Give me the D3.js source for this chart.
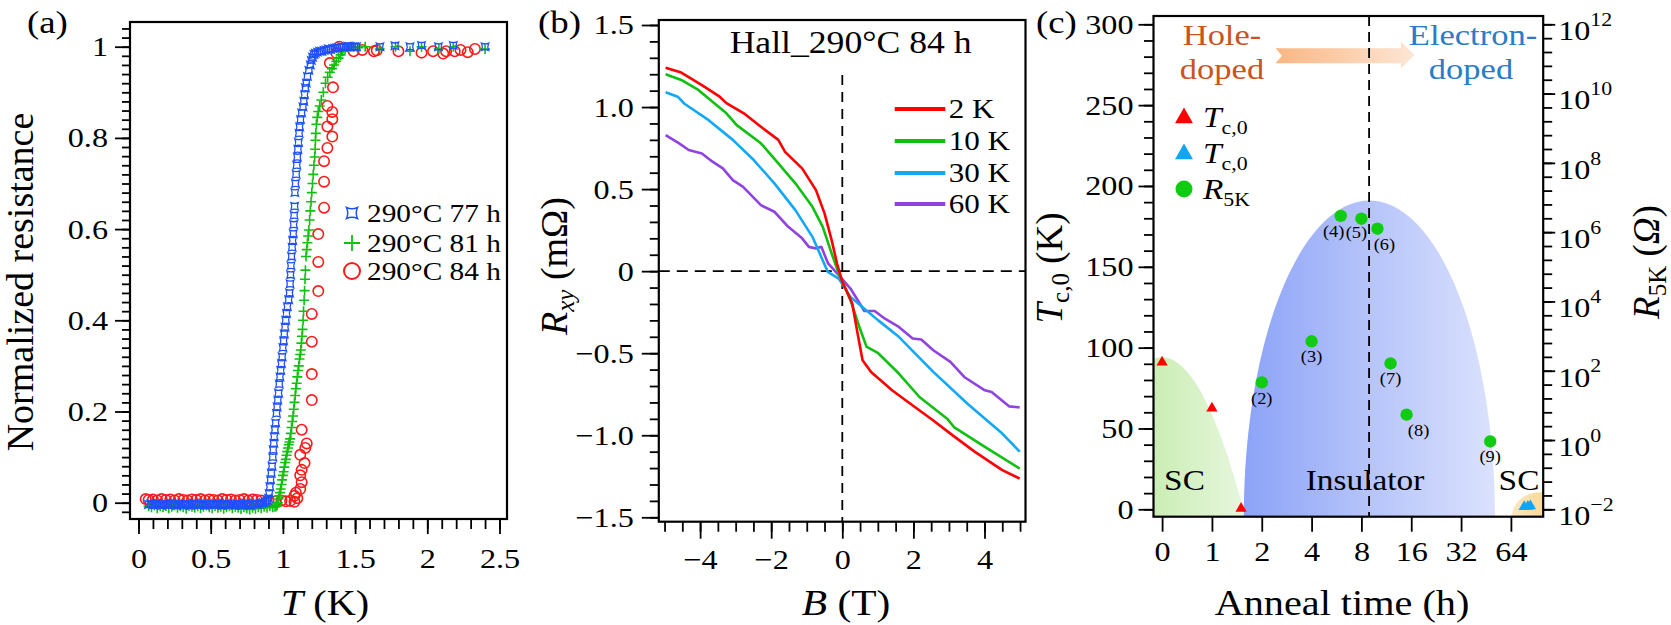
<!DOCTYPE html>
<html><head><meta charset="utf-8">
<script src="https://cdn.jsdelivr.net/npm/d3@7/dist/d3.min.js"></script>
<style>
html,body{margin:0;padding:0;background:#fff;}
svg{display:block}
svg text{font-family:"Liberation Serif","Tinos","Times New Roman","DejaVu Serif",serif;fill:#000}
</style></head><body>
<svg id="fig" width="1671" height="625" viewBox="0 0 1671 625"></svg>
<script>
// ================= DATA =================
// ---- panel (a): normalized resistance vs T ----
const aXTicks = [0, 0.5, 1, 1.5, 2, 2.5];
const aYTicks = [0, 0.2, 0.4, 0.6, 0.8, 1];
const aLegend = ["290°C 77 h", "290°C 81 h", "290°C 84 h"];
// [T (K), R/Rn]
const res77h = [
 [0.07,-0.004],[0.085,-0.002],[0.10,-0.005],[0.115,-0.003],[0.13,-0.001],[0.145,-0.004],[0.16,-0.006],[0.175,-0.002],
 [0.19,-0.003],[0.205,-0.005],[0.22,-0.001],[0.235,-0.004],[0.25,-0.003],[0.265,-0.006],[0.28,-0.002],[0.295,-0.004],
 [0.31,-0.005],[0.325,-0.002],[0.34,-0.003],[0.355,-0.006],[0.37,-0.004],[0.385,-0.001],[0.40,-0.003],[0.415,-0.005],
 [0.43,-0.004],[0.445,-0.002],[0.46,-0.006],[0.475,-0.003],[0.49,-0.004],[0.505,-0.002],[0.52,-0.005],[0.535,-0.003],
 [0.55,-0.001],[0.565,-0.004],[0.58,-0.006],[0.595,-0.003],[0.61,-0.002],[0.625,-0.005],[0.64,-0.004],[0.655,-0.003],
 [0.67,-0.006],[0.685,-0.002],[0.70,-0.004],[0.715,-0.005],[0.73,-0.003],[0.745,-0.001],[0.76,-0.004],[0.775,-0.006],
 [0.79,-0.003],[0.805,-0.002],[0.82,-0.004],[0.835,-0.003],[0.85,-0.001],[0.865,0.000],[0.88,0.002],[0.89,0.005],
 [0.90,0.01],[0.905,0.02],[0.91,0.035],[0.915,0.05],[0.92,0.065],[0.925,0.08],[0.93,0.10],[0.933,0.116],
 [0.937,0.13],[0.94,0.145],[0.945,0.16],[0.95,0.175],[0.956,0.196],[0.96,0.21],[0.965,0.225],[0.97,0.24],
 [0.975,0.26],[0.98,0.276],[0.985,0.29],[0.99,0.305],[0.995,0.32],[1.0,0.34],[1.005,0.355],[1.01,0.37],
 [1.015,0.385],[1.02,0.40],[1.025,0.415],[1.031,0.43],[1.04,0.445],[1.046,0.46],[1.05,0.48],[1.053,0.50],
 [1.056,0.52],[1.06,0.54],[1.064,0.56],[1.068,0.575],[1.072,0.59],[1.075,0.61],[1.078,0.63],[1.081,0.65],
 [1.083,0.68],[1.087,0.70],[1.092,0.72],[1.096,0.74],[1.10,0.758],[1.104,0.775],[1.108,0.79],[1.112,0.81],
 [1.116,0.824],[1.122,0.84],[1.13,0.855],[1.139,0.868],[1.145,0.88],[1.15,0.895],[1.156,0.91],[1.162,0.92],
 [1.17,0.935],[1.18,0.948],[1.19,0.96],[1.197,0.97],[1.205,0.977],[1.215,0.983],[1.225,0.986],[1.24,0.988],
 [1.255,0.99],[1.27,0.99],[1.285,0.992],[1.30,0.993],[1.315,0.995],[1.33,0.994],[1.345,0.996],[1.36,0.997],
 [1.375,0.998],[1.39,0.998],[1.405,1.0],[1.42,0.999],[1.435,1.0],[1.45,1.001],[1.465,1.0],[1.48,1.0],
 [1.495,1.0],[1.51,1.0],[1.672,1.0],[1.776,1.002],[1.88,1.0],[1.96,1.003],[2.077,1.0],[2.18,1.003],[2.40,1.0]
];
const res81h = [
 [0.07,-0.008],[0.09,-0.010],[0.11,-0.006],[0.13,-0.012],[0.15,-0.008],[0.17,-0.010],[0.19,-0.007],[0.21,-0.012],
 [0.23,-0.009],[0.25,-0.006],[0.27,-0.011],[0.29,-0.008],[0.31,-0.010],[0.33,-0.013],[0.35,-0.007],[0.37,-0.009],
 [0.39,-0.011],[0.41,-0.008],[0.43,-0.012],[0.45,-0.009],[0.47,-0.006],[0.49,-0.010],[0.51,-0.012],[0.53,-0.008],
 [0.55,-0.011],[0.57,-0.009],[0.59,-0.013],[0.61,-0.010],[0.63,-0.008],[0.65,-0.012],[0.67,-0.009],[0.69,-0.011],
 [0.71,-0.014],[0.73,-0.010],[0.75,-0.012],[0.77,-0.015],[0.79,-0.011],[0.81,-0.013],[0.83,-0.010],[0.85,-0.012],
 [0.87,-0.009],[0.89,-0.011],[0.91,-0.008],[0.93,-0.010],[0.945,-0.009],
 [0.955,-0.008],[0.96,-0.005],[0.965,0.0],[0.97,0.008],[0.975,0.015],[0.98,0.022],[0.985,0.03],[0.99,0.04],
 [0.995,0.05],[1.0,0.06],[1.005,0.068],[1.01,0.078],[1.015,0.088],[1.02,0.095],[1.025,0.104],[1.03,0.112],
 [1.035,0.12],[1.04,0.127],[1.045,0.133],[1.05,0.14],[1.055,0.152],[1.06,0.165],[1.065,0.178],[1.07,0.19],
 [1.075,0.205],[1.08,0.22],[1.085,0.235],[1.09,0.25],[1.095,0.262],[1.10,0.276],[1.105,0.29],[1.11,0.30],
 [1.115,0.315],[1.12,0.325],[1.124,0.335],[1.128,0.35],[1.132,0.365],[1.136,0.38],[1.14,0.40],[1.143,0.42],
 [1.147,0.444],[1.15,0.465],[1.153,0.49],[1.156,0.51],[1.16,0.54],[1.165,0.555],[1.17,0.57],[1.175,0.585],
 [1.18,0.598],[1.185,0.62],[1.19,0.64],[1.195,0.66],[1.20,0.68],[1.205,0.70],[1.21,0.72],[1.215,0.74],
 [1.22,0.758],[1.223,0.775],[1.225,0.795],[1.228,0.81],[1.232,0.83],[1.238,0.845],[1.245,0.858],[1.255,0.87],
 [1.266,0.883],[1.28,0.90],[1.295,0.92],[1.31,0.933],[1.325,0.944],[1.34,0.952],[1.355,0.96],[1.37,0.968],
 [1.385,0.975],[1.40,0.982],[1.415,0.99],[1.43,0.995],[1.45,0.998],[1.47,1.0],[1.49,1.0],[1.52,0.998],
 [1.57,1.0],[1.67,0.995],[1.78,1.0],[1.88,0.99],[1.96,1.0],[2.08,0.995],[2.18,1.0],[2.40,0.995]
];
const res84h = [
 [0.05,0.008],[0.07,0.006],[0.10,0.007],[0.13,0.005],[0.16,0.008],[0.19,0.006],[0.22,0.007],[0.25,0.005],
 [0.28,0.008],[0.31,0.006],[0.34,0.005],[0.37,0.007],[0.40,0.006],[0.43,0.008],[0.46,0.005],[0.49,0.007],
 [0.52,0.006],[0.55,0.005],[0.58,0.008],[0.61,0.006],[0.64,0.007],[0.67,0.005],[0.70,0.006],[0.73,0.008],
 [0.76,0.005],[0.79,0.007],[0.82,0.006],[0.85,0.005],[0.90,0.004],[0.95,0.003],[0.99,0.005],[1.02,0.003],
 [1.05,0.004],[1.08,0.002],[1.08,0.015],[1.09,0.022],[1.10,0.01],[1.12,0.03],[1.13,0.045],[1.12,0.06],
 [1.13,0.072],[1.15,0.087],[1.12,0.105],[1.155,0.12],[1.165,0.13],[1.13,0.16],[1.20,0.225],[1.20,0.282],
 [1.20,0.353],[1.20,0.414],[1.245,0.464],[1.245,0.528],[1.245,0.589],[1.285,0.647],[1.285,0.704],[1.285,0.749],
 [1.308,0.778],[1.342,0.803],[1.308,0.825],[1.342,0.841],[1.342,0.857],[1.308,0.87],[1.347,0.911],[1.325,0.964],
 [1.37,0.986],[1.39,1.0],[1.49,0.99],[1.55,0.993],[1.63,0.99],[1.65,0.992],[1.80,0.99],[1.96,0.987],
 [2.04,0.99],[2.11,0.985],[2.13,0.99],[2.19,0.99],[2.23,0.993],[2.28,0.988],[2.33,0.995]
];

// ---- panel (b): Hall resistance vs B ----
const bTitle = "Hall_290°C 84 h";
const bXTicks = [-4, -2, 0, 2, 4];
const bYTicks = [-1.5, -1, -0.5, 0, 0.5, 1, 1.5];
const bLegend = ["2 K", "10 K", "30 K", "60 K"];
const hall2K_B  = [-4.97,-4.53,-3.95,-3.45,-3.26,-2.77,-2.29,-1.80,-1.61,-1.13,-0.74,-0.50,-0.30,-0.15,0.00,0.28,0.43,0.57,0.81,1.40,1.78,2.56,3.04,3.72,4.50,4.99];
const hall2K_R  = [1.24,1.21,1.134,1.063,1.024,0.962,0.88,0.80,0.727,0.626,0.494,0.352,0.189,0.048,-0.065,-0.197,-0.38,-0.543,-0.614,-0.726,-0.787,-0.91,-0.99,-1.10,-1.213,-1.264];
const hall10K_B = [-4.97,-4.53,-4.05,-3.26,-2.97,-2.29,-1.80,-1.32,-0.84,-0.55,-0.30,-0.10,0.05,0.23,0.48,0.68,1.01,1.59,2.17,2.95,3.14,4.01,4.99];
const hall10K_R = [1.20,1.165,1.104,0.962,0.89,0.779,0.657,0.535,0.392,0.27,0.108,-0.014,-0.085,-0.177,-0.34,-0.46,-0.50,-0.624,-0.767,-0.899,-0.95,-1.071,-1.203];
const hall30K_B = [-4.97,-4.63,-4.44,-3.76,-3.08,-2.49,-1.91,-1.32,-0.84,-0.41,-0.10,0.23,1.01,1.59,2.56,3.53,4.50,4.99];
const hall30K_R = [1.09,1.063,1.02,0.92,0.80,0.677,0.535,0.372,0.209,-0.004,-0.045,-0.157,-0.30,-0.40,-0.614,-0.81,-0.99,-1.10];
const hall60K_B = [-4.97,-4.60,-4.32,-3.95,-3.65,-3.36,-3.08,-2.79,-2.29,-1.91,-1.52,-1.13,-0.94,-0.74,-0.59,-0.40,-0.10,0.23,0.62,0.91,1.20,1.59,1.98,2.22,2.56,3.04,3.43,4.01,4.20,4.69,4.99];
const hall60K_R = [0.829,0.78,0.738,0.717,0.667,0.626,0.555,0.514,0.402,0.362,0.27,0.20,0.148,0.138,0.148,0.047,-0.024,-0.106,-0.243,-0.243,-0.29,-0.34,-0.41,-0.417,-0.482,-0.553,-0.645,-0.726,-0.736,-0.824,-0.83];

// ---- panel (c): phase diagram vs anneal time ----
const cTimeTicks = [0, 1, 2, 4, 8, 16, 32, 64];
const cTcTicks = [0, 50, 100, 150, 200, 250, 300];
const cRTicks = [1e-2, 1e0, 1e2, 1e4, 1e6, 1e8, 1e10, 1e12];
const tcHoleTime = [0, 1, 1.5];
const tcHole     = [91, 62.5, 0.5];
const tcElecTime = [77, 81, 84];
const tcElec     = [1.6, 1.8, 2.0];
const r5kTime  = [2, 4, 6, 8, 10, 12, 15, 48];
const r5k      = [46, 708, 2.95e6, 2.45e6, 1.26e6, 162, 5.4, 0.91];
const r5kLabel = ["(2)", "(3)", "(4)", "(5)", "(6)", "(7)", "(8)", "(9)"];
const boundaryTime = 8.9;
// region shapes: [centre time-index, half-width (index units), peak Tc]
const domeSC1 = [0, 1.67, 94];
const domeIns = [4.16, 2.52, 191];
const domeSC2 = [7.58, 0.56, 10.5];

// ================= DRAWING =================
const svg = d3.select("#fig");
const defs = svg.append("defs");
const F = '"Liberation Serif","Tinos","Times New Roman","DejaVu Serif",serif';
const K = 1.15; // horizontal glyph stretch of the original typesetting

function stretch(sel) {
  sel.each(function () {
    const el = d3.select(this);
    const x = +el.attr("x") || 0;
    el.attr("x", x / K).attr("transform", `scale(${K},1)`);
  });
}
function grad(id, stops) {
  const g = defs.append("linearGradient").attr("id", id).attr("x1", 0).attr("x2", 1).attr("y1", 0).attr("y2", 0);
  stops.forEach((c, i) => g.append("stop").attr("offset", i / (stops.length - 1)).attr("stop-color", c));
}
grad("gGreen", ["#b3e692", "#e7f7de"]);
grad("gBlue", ["#8ca3f7", "#b6c4fa", "#dbe2fd"]);
grad("gOrange", ["#fde8c2", "#f8cb78"]);
grad("gArrow", ["#fbb682", "#fde6d6"]);

function clip(id, fr) {
  defs.append("clipPath").attr("id", id).append("rect")
    .attr("x", fr.l).attr("y", fr.t).attr("width", fr.r - fr.l).attr("height", fr.b - fr.t);
}
function styleAxis(g) {
  g.attr("font-family", F);
  g.select(".domain").remove();
  g.selectAll(".tick line").attr("stroke", "#000").attr("stroke-width", 1.8);
  g.selectAll(".tick text").attr("font-size", 28).attr("font-family", F).attr("fill", "#000").call(stretch);
}
function frame(fr) {
  svg.append("rect").attr("x", fr.l).attr("y", fr.t).attr("width", fr.r - fr.l).attr("height", fr.b - fr.t)
    .attr("fill", "none").attr("stroke", "#000").attr("stroke-width", 2.2);
}
function txt(x, y, s, fs, anchor, fill) {
  const t = svg.append("text").attr("x", x).attr("y", y).attr("font-size", fs)
    .attr("font-family", F).attr("text-anchor", anchor || "start").text(s);
  if (fill) t.attr("fill", fill).style("fill", fill);
  t.call(stretch);
  return t;
}
function label(x, y, parts, opts) {
  const t = svg.append("text").attr("x", x).attr("y", y).attr("font-size", opts.fs)
    .attr("font-family", F).attr("text-anchor", opts.anchor || "start");
  if (opts.rot) t.attr("transform", `rotate(${opts.rot},${x},${y})`);
  else t.call(stretch);
  parts.forEach(p => {
    const s = t.append("tspan").text(p.t);
    if (p.i) s.attr("font-style", "italic");
    if (p.fs) s.attr("font-size", p.fs);
    if (p.dy) s.attr("dy", p.dy);
  });
  return t;
}

// ---------- Panel (a) ----------
const A = {l: 130, r: 507, t: 22, b: 519};
const xA = d3.scaleLinear().domain([0, 2.5]).range([138.5, 499.5]);
const yA = d3.scaleLinear().domain([0, 1]).range([502.7, 46.7]);
clip("clipA", A);
svg.append("g").attr("transform", `translate(${A.l},0)`)
  .call(d3.axisLeft(yA).tickValues(d3.range(-1, 53).map(i => i * 0.02)).tickSize(8).tickFormat(""))
  .call(styleAxis);
svg.append("g").attr("transform", `translate(${A.l},0)`)
  .call(d3.axisLeft(yA).tickValues(aYTicks).tickSize(15).tickPadding(7)
    .tickFormat(d => (d === 0 || d === 1) ? String(d) : d3.format(".1f")(d)))
  .call(styleAxis);
svg.append("g").attr("transform", `translate(0,${A.b})`)
  .call(d3.axisBottom(xA).tickValues(d3.range(0, 26).map(i => i * 0.1)).tickSize(10).tickFormat(""))
  .call(styleAxis);
svg.append("g").attr("transform", `translate(0,${A.b})`)
  .call(d3.axisBottom(xA).tickValues(aXTicks).tickSize(15).tickPadding(14).tickFormat(d => String(d)))
  .call(styleAxis);

const starPath = s => `M${-s},${-s}Q0,${-s*0.55} ${s},${-s}Q${s*0.55},0 ${s},${s}Q0,${s*0.55} ${-s},${s}Q${-s*0.55},0 ${-s},${-s}Z`;
const plusPath = s => `M${-s},0H${s}M0,${-s}V${s}`;
const gA = svg.append("g").attr("clip-path", "url(#clipA)");
gA.selectAll("circle.r84").data(res84h).join("circle").attr("class", "r84")
  .attr("cx", d => xA(d[0])).attr("cy", d => yA(d[1])).attr("r", 5.2)
  .attr("fill", "none").attr("stroke", "#ff1a1a").attr("stroke-width", 1.6);
gA.selectAll("path.r81").data(res81h).join("path").attr("class", "r81")
  .attr("transform", d => `translate(${xA(d[0])},${yA(d[1])})`).attr("d", plusPath(5))
  .attr("stroke", "#10c010").attr("stroke-width", 1.6).attr("fill", "none");
gA.selectAll("path.r77").data(res77h).join("path").attr("class", "r77")
  .attr("transform", d => `translate(${xA(d[0])},${yA(d[1])})`).attr("d", starPath(3.6))
  .attr("stroke", "#1e50ff").attr("stroke-width", 1.3).attr("fill", "none");
frame(A);

// legend (a)
const aLegY = [213, 243, 271];
svg.append("path").attr("transform", `translate(352,${aLegY[0]})`).attr("d", starPath(5.5))
  .attr("stroke", "#1e50ff").attr("stroke-width", 1.5).attr("fill", "none");
svg.append("path").attr("transform", `translate(352,${aLegY[1]})`).attr("d", plusPath(8))
  .attr("stroke", "#10c010").attr("stroke-width", 1.8).attr("fill", "none");
svg.append("circle").attr("cx", 352).attr("cy", aLegY[2]).attr("r", 8)
  .attr("stroke", "#ff1a1a").attr("stroke-width", 2).attr("fill", "none");
aLegend.forEach((s, i) => txt(367, aLegY[i] + 9, s, 25.5));

label(27, 33, [{t: "(a)"}], {fs: 32});
label(325, 615, [{t: "T", i: 1}, {t: " (K)"}], {fs: 35});
d3.selectAll("text").filter(function () { return this.textContent === "T (K)"; }).attr("text-anchor", "middle");
label(33, 282, [{t: "Normalized resistance"}], {fs: 38, anchor: "middle", rot: -90});

// ---------- Panel (b) ----------
const B = {l: 658.8, r: 1025.5, t: 20, b: 521.7};
const xB = d3.scaleLinear().domain([-4, 4]).range([700.1, 984.5]);
const yB = d3.scaleLinear().domain([-1.5, 1.5]).range([517.3, 25]);
clip("clipB", B);
svg.append("g").attr("transform", `translate(${B.l},0)`)
  .call(d3.axisLeft(yB).tickValues(d3.range(-15, 16).map(i => i / 10)).tickSize(9).tickFormat(""))
  .call(styleAxis);
svg.append("g").attr("transform", `translate(${B.l},0)`)
  .call(d3.axisLeft(yB).tickValues(bYTicks).tickSize(17).tickPadding(8)
    .tickFormat(d => d === 0 ? "0" : d3.format(".1f")(d)))
  .call(styleAxis);
svg.append("g").attr("transform", `translate(0,${B.b})`)
  .call(d3.axisBottom(xB).tickValues(d3.range(-10, 11).map(i => i * 0.5)).tickSize(10).tickFormat(""))
  .call(styleAxis);
svg.append("g").attr("transform", `translate(0,${B.b})`)
  .call(d3.axisBottom(xB).tickValues(bXTicks).tickSize(17).tickPadding(10).tickFormat(d3.format("d")))
  .call(styleAxis);

const gB = svg.append("g").attr("clip-path", "url(#clipB)");
gB.append("line").attr("x1", B.l).attr("x2", B.r).attr("y1", yB(0)).attr("y2", yB(0))
  .attr("stroke", "#000").attr("stroke-width", 1.8).attr("stroke-dasharray", "11,7");
gB.append("line").attr("x1", xB(0)).attr("x2", xB(0)).attr("y1", yB(1.195)).attr("y2", B.b)
  .attr("stroke", "#000").attr("stroke-width", 1.8).attr("stroke-dasharray", "10,7");
const bColors = ["#ff0000", "#10c010", "#12a8f5", "#9143df"];
const hallSets = [[hall2K_B, hall2K_R], [hall10K_B, hall10K_R], [hall30K_B, hall30K_R], [hall60K_B, hall60K_R]];
const lineB = d3.line().x(d => xB(d[0])).y(d => yB(d[1])).curve(d3.curveLinear);
hallSets.slice().reverse().forEach((s, k) => {
  const i = hallSets.length - 1 - k;
  gB.append("path").attr("d", lineB(s[0].map((b, j) => [b, s[1][j]])))
    .attr("fill", "none").attr("stroke", bColors[i]).attr("stroke-width", 2.6).attr("stroke-linejoin", "round");
});
frame(B);
const bLegY = [109, 141, 173, 204];
bLegend.forEach((s, i) => {
  svg.append("line").attr("x1", 894.7).attr("x2", 945.3).attr("y1", bLegY[i]).attr("y2", bLegY[i])
    .attr("stroke", bColors[i]).attr("stroke-width", 4);
  txt(948.7, bLegY[i] + 9.5, s, 27);
});
txt(850.6, 53, bTitle, 31, "middle");
label(538, 33, [{t: "(b)"}], {fs: 32});
label(846, 615, [{t: "B", i: 1}, {t: " (T)"}], {fs: 36, anchor: "middle"});
label(567, 266, [{t: "R", i: 1}, {t: "xy", i: 1, fs: 25, dy: 7}, {t: " (mΩ)", dy: -7}], {fs: 38, anchor: "middle", rot: -90});

// ---------- Panel (c) ----------
const C = {l: 1153.5, r: 1543.2, t: 16, b: 516.7};
const tIdx = t => t === 0 ? 0 : Math.log2(t) + 1;
const xC = d3.scaleLinear().domain([0, 7]).range([1162.1, 1510.9]);
const yC = d3.scaleLinear().domain([0, 300]).range([509.3, 24.3]);
const rC = d3.scaleLog().domain([1e-2, 1e12]).range([509.3, 24.3]);
clip("clipC", C);
const gC = svg.append("g").attr("clip-path", "url(#clipC)");
const baseTc = yC.invert(C.b);
// SC (hole) region: parabola
const sc1 = d3.range(-40, 41).map(k => {
  const u = k / 40;
  return [xC(domeSC1[0] + u * domeSC1[1]), yC(domeSC1[2] - (domeSC1[2] - baseTc) * u * u)];
});
gC.append("path").attr("d", d3.line()(sc1) + "Z").attr("fill", "url(#gGreen)");
// insulating dome: half ellipse
const ellipse = dm => d3.range(0, 81).map(k => {
  const th = Math.PI * k / 80;
  return [xC(dm[0] + dm[1] * Math.cos(th)), yC(baseTc + (dm[2] - baseTc) * Math.sin(th))];
});
gC.append("path").attr("d", d3.line()(ellipse(domeIns)) + "Z").attr("fill", "url(#gBlue)");
gC.append("path").attr("d", d3.line()(ellipse(domeSC2)) + "Z").attr("fill", "url(#gOrange)");

// arrow hole -> electron
gC.append("path").attr("d", "M1275.5,48.3L1401,48.3L1401,41.7L1414.6,55L1401,68.3L1401,63.3L1275.5,63.3L1282,55.8Z")
  .attr("fill", "url(#gArrow)");

// region labels
txt(1184.5, 490, "SC", 29, "middle");
txt(1365, 490, "Insulator", 29, "middle");
txt(1519, 490, "SC", 29, "middle");
txt(1222, 45, "Hole-", 30, "middle", "#c9541f");
txt(1222, 79, "doped", 30, "middle", "#c9541f");
txt(1473, 45, "Electron-", 30, "middle", "#2a7cc7");
txt(1471, 79, "doped", 30, "middle", "#2a7cc7");

// boundary dashed line
gC.append("line").attr("x1", xC(tIdx(boundaryTime))).attr("x2", xC(tIdx(boundaryTime)))
  .attr("y1", C.t).attr("y2", C.b).attr("stroke", "#000").attr("stroke-width", 1.8).attr("stroke-dasharray", "10,6");

// points
const tri = d3.symbol(d3.symbolTriangle, 55);
gC.selectAll("path.th").data(tcHoleTime).join("path").attr("class", "th")
  .attr("transform", (t, i) => `translate(${xC(tIdx(t))},${yC(tcHole[i])})`).attr("d", tri).attr("fill", "#ff0000");
gC.selectAll("path.te").data(tcElecTime).join("path").attr("class", "te")
  .attr("transform", (t, i) => `translate(${xC(tIdx(t))},${yC(tcElec[i])})`).attr("d", tri).attr("fill", "#10a6f5");
gC.selectAll("circle.rk").data(r5kTime).join("circle").attr("class", "rk")
  .attr("cx", t => xC(tIdx(t))).attr("cy", (t, i) => rC(r5k[i])).attr("r", 6.2).attr("fill", "#10cc10");
const lblDx = [0, 0, -7, -5, 7, 0, 12, 0];
const lblDy = [22, 21, 21, 19, 21, 21, 21, 21];
r5kTime.forEach((t, i) => txt(xC(tIdx(t)) + lblDx[i], rC(r5k[i]) + lblDy[i], r5kLabel[i], 16, "middle"));

// axes (c)
svg.append("g").attr("transform", `translate(${C.l},0)`)
  .call(d3.axisLeft(yC).tickValues(d3.range(0, 31).map(i => i * 10)).tickSize(9.5).tickFormat(""))
  .call(styleAxis);
svg.append("g").attr("transform", `translate(${C.l},0)`)
  .call(d3.axisLeft(yC).tickValues(cTcTicks).tickSize(15).tickPadding(5).tickFormat(d3.format("d")))
  .call(styleAxis);
svg.append("g").attr("transform", `translate(0,${C.b})`)
  .call(d3.axisBottom(xC).tickValues(cTimeTicks.map(tIdx)).tickSize(15).tickPadding(9)
    .tickFormat((d, i) => String(cTimeTicks[i])))
  .call(styleAxis);
svg.append("g").attr("transform", `translate(${C.r},0)`)
  .call(d3.axisRight(rC).tickValues(d3.range(0, 36).map(i => Math.pow(10, -2 + i * 0.4))).tickSize(9).tickFormat(""))
  .call(styleAxis);
const gR = svg.append("g").attr("transform", `translate(${C.r},0)`)
  .call(d3.axisRight(rC).tickValues(cRTicks).tickSize(12).tickPadding(3).tickFormat(""))
  .call(styleAxis);
gR.selectAll(".tick text").each(function (d) {
  const e = Math.round(Math.log10(d));
  const t = d3.select(this).attr("dy", "0.55em");
  t.append("tspan").text("10");
  t.append("tspan").attr("font-size", 19).attr("dy", "-0.75em").text(e < 0 ? "\u2212" + (-e) : String(e));
});
frame(C);

// legend (c)
const triL = d3.symbol(d3.symbolTriangle, 140);
svg.append("path").attr("transform", "translate(1184,118)").attr("d", triL).attr("fill", "#ff0000");
svg.append("path").attr("transform", "translate(1184,154)").attr("d", triL).attr("fill", "#10a6f5");
svg.append("circle").attr("cx", 1184).attr("cy", 189).attr("r", 8.5).attr("fill", "#10cc10");
label(1203, 127, [{t: "T", i: 1}, {t: "c,0", fs: 19, dy: 7}], {fs: 29});
label(1203, 163, [{t: "T", i: 1}, {t: "c,0", fs: 19, dy: 7}], {fs: 29});
label(1203, 199, [{t: "R", i: 1}, {t: "5K", fs: 19, dy: 7}], {fs: 29});

label(1036, 33, [{t: "(c)"}], {fs: 32});
label(1342, 615, [{t: "Anneal time (h)"}], {fs: 35, anchor: "middle"});
label(1062, 268, [{t: "T", i: 1}, {t: "c,0", fs: 25, dy: 7}, {t: " (K)", dy: -7}], {fs: 37, anchor: "middle", rot: -90});
label(1659, 262, [{t: "R", i: 1}, {t: "5K", fs: 25, dy: 7}, {t: " (", dy: -7}, {t: "Ω", i: 1}, {t: ")"}], {fs: 37, anchor: "middle", rot: -90});
</script>
</body></html>
